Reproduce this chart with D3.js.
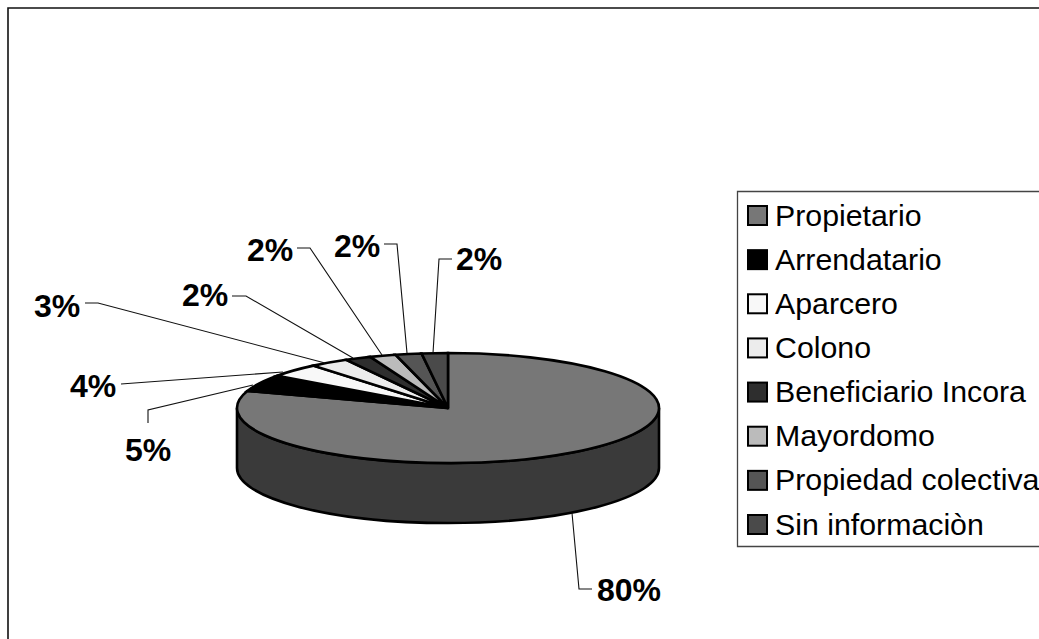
<!DOCTYPE html>
<html lang="en">
<head>
  <meta charset="UTF-8">
  <title>Tenencia de la tierra</title>
  <script src="https://d3js.org/d3.v7.min.js"></script>
  <style>
    html, body { margin: 0; padding: 0; background: #fff; }
    svg { display: block; }
    text { font-family: "Liberation Sans", Arial, sans-serif; fill: #000; }
    .pct { font-weight: bold; font-size: 32px; }
    .legend-label { font-size: 30.3px; }
  </style>
</head>
<body>
<svg id="chart"></svg>

<script>
  // Data
  var categories = ["Propietario", "Arrendatario", "Aparcero", "Colono", "Beneficiario Incora", "Mayordomo", "Propiedad colectiva", "Sin informaciòn"];
  var values = [80, 5, 4, 3, 2, 2, 2, 2];
  var colors = ["#777777", "#000000", "#f8f8f8", "#ececec", "#2e2e2e", "#bbbbbb", "#555555", "#4a4a4a"];

  var svgWidth = 1039, svgHeight = 639;
  var cx = 448, cy = 408, rx = 211, ry = 55, depth = 60;

  // Label anchor (text centre) and leader line, one per slice
  var labelPos = [[629, 590], [148, 450], [93, 386], [57, 306], [205, 295], [270, 250], [357, 246], [479, 259]];
  var leaderPts = [
    [[592, 589], [579, 589], [572, 513]],
    [[148, 423], [148, 410], [253, 385]],
    [[121, 384], [283, 372]],
    [[85, 303], [98, 303], [325, 363]],
    [[232, 296], [246, 296], [353, 358]],
    [[297, 248], [310, 248], [382, 355]],
    [[384, 244], [397, 244], [407, 353]],
    [[452, 259], [439, 259], [433, 353]]
  ];

  var svg = d3.select("#chart").attr("width", svgWidth).attr("height", svgHeight);

  // Outer frame runs off the right edge
  svg.append("path")
    .attr("d", "M1039,8H8V639")
    .attr("fill", "none").attr("stroke", "#111").attr("stroke-width", 1.6);

  // Side wall of the disc
  svg.append("path")
    .attr("d", "M" + (cx - rx) + "," + cy +
      "V" + (cy + depth) +
      "A" + rx + "," + ry + " 0 0 0 " + (cx + rx) + "," + (cy + depth) +
      "V" + cy +
      "A" + rx + "," + ry + " 0 0 1 " + (cx - rx) + "," + cy + "Z")
    .attr("fill", "#3a3a3a").attr("stroke", "#000").attr("stroke-width", 2.6);

  // Top of the disc: a flat pie squashed into an ellipse
  var pie = d3.pie().sort(null)(values);
  var arc = d3.arc().innerRadius(0).outerRadius(rx);

  svg.append("g")
    .attr("transform", "translate(" + cx + "," + cy + ") scale(1," + (ry / rx) + ")")
    .selectAll("path")
    .data(pie)
    .enter().append("path")
    .attr("d", arc)
    .attr("fill", function(d, i) { return colors[i]; })
    .attr("stroke", "#000")
    .attr("stroke-width", 2.6)
    .attr("vector-effect", "non-scaling-stroke");

  // Leader lines
  var line = d3.line();
  svg.selectAll(".leader")
    .data(leaderPts)
    .enter().append("path")
    .attr("class", "leader")
    .attr("d", function(d) { return line(d); })
    .attr("fill", "none")
    .attr("stroke", "#111")
    .attr("stroke-width", 1.1);

  // Percent labels
  svg.selectAll(".pct")
    .data(values)
    .enter().append("text")
    .attr("class", "pct")
    .attr("text-anchor", "middle")
    .attr("dominant-baseline", "central")
    .attr("x", function(d, i) { return labelPos[i][0]; })
    .attr("y", function(d, i) { return labelPos[i][1]; })
    .text(function(d) { return d + "%"; });

  // Legend
  var legendX = 737.5, legendY = 191.5, legendBottom = 546.5;
  var rowY = d3.scalePoint().domain(categories).range([215, 524]);

  svg.append("path")
    .attr("d", "M1039," + legendY + "H" + legendX + "V" + legendBottom + "H1039")
    .attr("fill", "#fff").attr("stroke", "#444").attr("stroke-width", 1.3);

  var rows = svg.selectAll(".legend-row")
    .data(categories)
    .enter().append("g")
    .attr("class", "legend-row")
    .attr("transform", function(d) { return "translate(0," + rowY(d) + ")"; });

  rows.append("rect")
    .attr("x", 748).attr("y", -9)
    .attr("width", 19).attr("height", 19)
    .attr("fill", function(d, i) { return colors[i]; })
    .attr("stroke", "#000").attr("stroke-width", 2);

  rows.append("text")
    .attr("class", "legend-label")
    .attr("x", 775)
    .attr("dominant-baseline", "central")
    .text(function(d) { return d; });
</script>
</body>
</html>
